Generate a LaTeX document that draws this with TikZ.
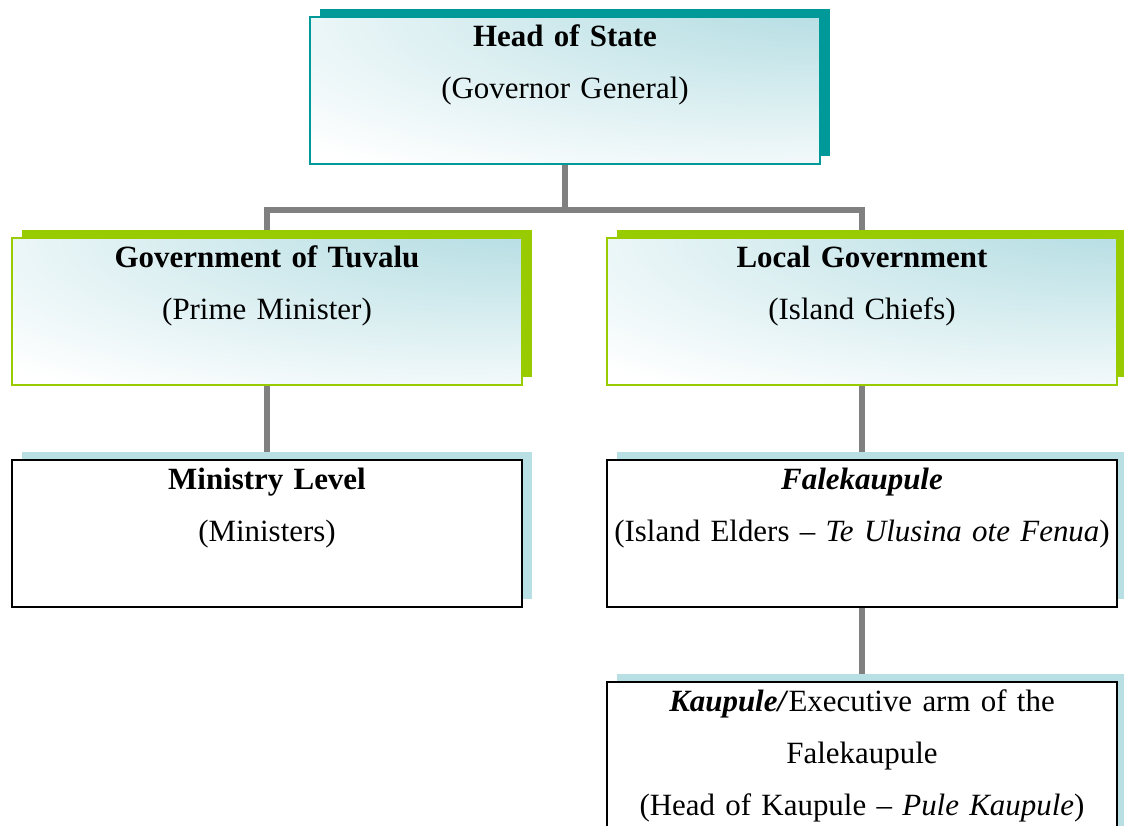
\documentclass[tikz,border=0pt]{standalone}
\usepackage{fontspec}
\setmainfont[WordSpace=0.85]{Liberation Serif}
\usetikzlibrary{shadows,backgrounds}
\definecolor{tealdark}{RGB}{0,153,153}
\definecolor{limegreen}{RGB}{153,204,0}
\definecolor{paleblue}{RGB}{184,223,228}
\definecolor{linkgray}{RGB}{128,128,128}
\pgfdeclareradialshading{cornerglow}{\pgfpoint{32bp}{42bp}}{color(0bp)=(paleblue); color(12bp)=(paleblue); color(55bp)=(white); color(100bp)=(white)}

\begin{document}
\begin{tikzpicture}[
	orgbox/.style={rectangle, anchor=north, text width=10.2cm, inner xsep=0pt, inner ysep=0pt, align=center, line width=1.1pt, font=\fontsize{17.6}{29.6}\selectfont, text height=17pt, text depth=66.7pt},
	headbox/.style={orgbox, draw=tealdark, shade, shading=cornerglow, drop shadow={shadow xshift=0.2cm, shadow yshift=0.16cm, fill=tealdark, opacity=1}},
	govbox/.style={orgbox, draw=limegreen, shade, shading=cornerglow, drop shadow={shadow xshift=0.2cm, shadow yshift=0.16cm, fill=limegreen, opacity=1}},
	levelbox/.style={orgbox, draw=black, fill=white, drop shadow={shadow xshift=0.2cm, shadow yshift=0.16cm, fill=paleblue, opacity=1}},
	link/.style={draw=linkgray, line width=0.11cm}]
	%%%%% START %%%%%
	
	\useasboundingbox (0, 0) rectangle (22.48, 16.5);
	
	\node[headbox] (head) at (11.3, 16.18) {\textbf{Head of State}\\(Governor General)};
	
	\node[govbox] (gov) at (5.34, 11.76) {\textbf{Government of Tuvalu}\\(Prime Minister)};
	\node[govbox] (local) at (17.24, 11.76) {\textbf{Local Government}\\(Island Chiefs)};
	
	\node[levelbox] (ministry) at (5.34, 7.32) {\textbf{Ministry Level}\\(Ministers)};
	\node[levelbox] (fale) at (17.24, 7.32) {\textbf{\textit{Falekaupule}}\\(Island Elders -- \textit{Te Ulusina ote Fenua})};
	
	\node[levelbox, text depth=96.3pt] (kaupule) at (17.24, 2.88) {\textbf{\textit{Kaupule/}}Executive arm of the\\Falekaupule\\(Head of Kaupule -- \textit{Pule Kaupule})};
	
	\begin{scope}[on background layer]
		\draw[link] (head.south) -- ++(0, -0.9) -| (gov.north);
		\draw[link] (head.south) -- ++(0, -0.9) -| (local.north);
		\draw[link] (gov.south) -- (ministry.north);
		\draw[link] (local.south) -- (fale.north);
		\draw[link] (fale.south) -- (kaupule.north);
	\end{scope}
	
	%%%%% END %%%%%
\end{tikzpicture}
\end{document}
